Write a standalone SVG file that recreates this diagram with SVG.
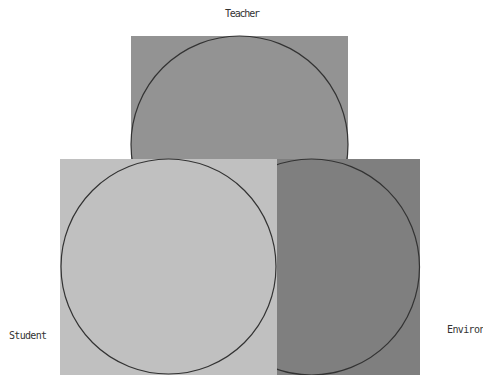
<svg xmlns="http://www.w3.org/2000/svg" width="483" height="375" viewBox="0 0 483 375">
<style>
.c{stroke:#333;stroke-width:1.2;fill:none}
.t{font-family:"DejaVu Sans Mono","Liberation Mono",monospace;font-size:10px;fill:#333}
</style>
<rect width="483" height="375" fill="#fff"/>
<g id="teacher">
<rect x="131" y="36" width="217" height="217" fill="#939393"/>
<circle class="c" cx="239.5" cy="144.5" r="108.5"/>
<text class="t" x="225" y="17" textLength="35">Teacher</text>
</g>
<g id="environment">
<rect x="203" y="159" width="217" height="216" fill="#7f7f7f"/>
<circle class="c" cx="311.5" cy="267" r="108"/>
<text class="t" x="447" y="333" textLength="60">Environment</text>
</g>
<g id="student">
<rect x="60" y="159" width="217" height="216" fill="#c0c0c0"/>
<circle class="c" cx="168.5" cy="266.5" r="107.5"/>
<text class="t" x="9" y="339" textLength="38">Student</text>
</g>
<g id="connectors"/>
</svg>
